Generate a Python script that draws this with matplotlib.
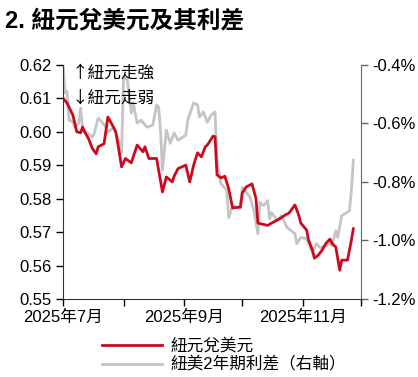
import matplotlib
matplotlib.use("Agg")
import matplotlib.pyplot as plt
import matplotlib.dates as mdates
import matplotlib.ticker as mticker
import pandas as pd

plt.rcParams['font.family'] = ['Liberation Sans', 'Noto Sans CJK TC', 'DejaVu Sans']

# NZD/USD
nzd_dates = ['2025-07-01', '2025-07-03', '2025-07-06', '2025-07-08', '2025-07-10', '2025-07-11',
             '2025-07-12', '2025-07-14', '2025-07-16', '2025-07-18', '2025-07-19', '2025-07-22',
             '2025-07-24', '2025-07-26', '2025-07-28', '2025-07-29', '2025-07-31', '2025-08-02',
             '2025-08-05', '2025-08-08', '2025-08-11', '2025-08-12', '2025-08-14', '2025-08-18',
             '2025-08-19', '2025-08-21', '2025-08-23', '2025-08-26', '2025-08-27', '2025-08-29',
             '2025-09-02', '2025-09-04', '2025-09-06', '2025-09-08', '2025-09-10', '2025-09-12',
             '2025-09-13', '2025-09-16', '2025-09-17', '2025-09-18', '2025-09-20', '2025-09-22',
             '2025-09-24', '2025-09-26', '2025-09-30', '2025-10-01', '2025-10-03', '2025-10-06',
             '2025-10-08', '2025-10-09', '2025-10-11', '2025-10-14', '2025-10-17', '2025-10-20',
             '2025-10-23', '2025-10-25', '2025-10-28', '2025-10-30', '2025-10-31', '2025-11-03',
             '2025-11-04', '2025-11-06', '2025-11-07', '2025-11-09', '2025-11-11', '2025-11-13',
             '2025-11-15', '2025-11-16', '2025-11-18', '2025-11-20', '2025-11-21', '2025-11-24',
             '2025-11-26', '2025-11-27']
nzd_usd = [0.610, 0.6086, 0.605, 0.600, 0.5997, 0.6014,
           0.600, 0.598, 0.595, 0.5934, 0.5955, 0.5964,
           0.6044, 0.6023, 0.600, 0.5967, 0.5895, 0.592,
           0.5907, 0.596, 0.594, 0.5955, 0.592, 0.592,
           0.5886, 0.582, 0.5865, 0.585, 0.5867, 0.589,
           0.590, 0.585, 0.590, 0.5937, 0.5925, 0.5955,
           0.596, 0.5987, 0.5985, 0.5871, 0.5862, 0.5867,
           0.583, 0.5772, 0.5775, 0.5817, 0.5835, 0.5844,
           0.580, 0.5727, 0.5724, 0.572, 0.573, 0.5739,
           0.5751, 0.5757, 0.5781, 0.575, 0.5727, 0.5706,
           0.5676, 0.5646, 0.5622, 0.5631, 0.5646, 0.5667,
           0.5679, 0.5667, 0.5655, 0.5586, 0.5616, 0.5616,
           0.5676, 0.571]

# NZ-US 2y yield spread (%)
spr_dates = ['2025-07-01', '2025-07-02', '2025-07-03', '2025-07-04', '2025-07-06', '2025-07-07',
             '2025-07-09', '2025-07-10', '2025-07-11', '2025-07-13', '2025-07-16', '2025-07-17',
             '2025-07-19', '2025-07-21', '2025-07-23', '2025-07-24', '2025-07-27', '2025-07-29',
             '2025-07-31', '2025-08-01', '2025-08-03', '2025-08-05', '2025-08-06', '2025-08-08',
             '2025-08-10', '2025-08-13', '2025-08-16', '2025-08-18', '2025-08-19', '2025-08-20',
             '2025-08-21', '2025-08-23', '2025-08-25', '2025-08-27', '2025-08-29', '2025-09-02',
             '2025-09-03', '2025-09-06', '2025-09-08', '2025-09-09', '2025-09-11', '2025-09-13',
             '2025-09-15', '2025-09-17', '2025-09-18', '2025-09-20', '2025-09-23', '2025-09-24',
             '2025-09-26', '2025-09-30', '2025-10-01', '2025-10-05', '2025-10-07', '2025-10-09',
             '2025-10-10', '2025-10-12', '2025-10-14', '2025-10-15', '2025-10-16', '2025-10-19',
             '2025-10-21', '2025-10-24', '2025-10-28', '2025-10-29', '2025-10-31', '2025-11-03',
             '2025-11-06', '2025-11-08', '2025-11-10', '2025-11-13', '2025-11-15', '2025-11-16',
             '2025-11-18', '2025-11-19', '2025-11-21', '2025-11-23', '2025-11-25', '2025-11-26',
             '2025-11-27']
spread = [-0.40, -0.496, -0.49, -0.589, -0.595, -0.613,
          -0.60, -0.548, -0.616, -0.63, -0.647, -0.633,
          -0.582, -0.596, -0.613, -0.63, -0.613, -0.647,
          -0.702, -0.441, -0.452, -0.565, -0.53, -0.599,
          -0.589, -0.613, -0.606, -0.537, -0.544, -0.623,
          -0.76, -0.623, -0.668, -0.633, -0.658, -0.64,
          -0.589, -0.53, -0.537, -0.578, -0.561, -0.596,
          -0.572, -0.561, -0.726, -0.805, -0.829, -0.922,
          -0.881, -0.891, -0.819, -0.853, -0.898, -0.977,
          -0.87, -0.881, -0.864, -0.925, -0.905, -0.932,
          -0.915, -0.956, -0.977, -1.011, -0.99, -0.994,
          -1.042, -1.011, -1.025, -1.018, -1.008, -1.018,
          -0.967, -0.99, -0.915, -0.908, -0.898, -0.829,
          -0.726]

red = '#cc0a1e'
gray = '#c4c4c4'

fig = plt.figure(figsize=(4.18, 3.77), dpi=100)
ax = fig.add_axes([0.151, 0.207, 0.713, 0.621])
ax2 = ax.twinx()

l1, = ax.plot(pd.to_datetime(nzd_dates), nzd_usd, color=red, lw=2, label='紐元兌美元')
l2, = ax2.plot(pd.to_datetime(spr_dates), spread, color=gray, lw=2, label='紐美2年期利差（右軸）')
ax.set_zorder(ax2.get_zorder() + 1)
ax.patch.set_visible(False)

ax.set_xlim(pd.Timestamp('2025-07-01'), pd.Timestamp('2025-12-01'))
ax.set_ylim(0.55, 0.62)
ax2.set_ylim(-1.2, -0.4)
ax.yaxis.set_major_locator(mticker.MultipleLocator(0.01))
ax.yaxis.set_major_formatter(mticker.FormatStrFormatter('%.2f'))
ax2.yaxis.set_major_locator(mticker.MultipleLocator(0.2))
ax2.yaxis.set_major_formatter(mticker.FuncFormatter(lambda v, p: f'{v:.1f}%'))

ax.xaxis.set_major_locator(mdates.MonthLocator(bymonth=[7, 9, 11]))
ax.xaxis.set_minor_locator(mdates.MonthLocator(bymonth=[8, 10, 12]))
ax.xaxis.set_major_formatter(mticker.FuncFormatter(
    lambda v, p: f'{mdates.num2date(v).year}年{mdates.num2date(v).month}月'))

for a in (ax, ax2):
    a.spines['top'].set_visible(False)
    a.tick_params(labelsize=12, length=5, width=1, pad=3)
ax.tick_params(axis='x', which='minor', length=5, width=1)
ax2.spines['left'].set_visible(False)
ax2.spines['bottom'].set_visible(False)
ax.spines['right'].set_visible(False)
ax.spines['left'].set_color('#333333')
ax.spines['bottom'].set_color('#333333')
ax2.spines['right'].set_color('#666666')
ax2.tick_params(axis='y', colors='#666666', labelcolor='black')

cjk = ['Noto Sans CJK TC', 'DejaVu Sans']
ax.text(0.03, 0.965, '↑紐元走強', transform=ax.transAxes, fontsize=12, va='center', family=cjk)
ax.text(0.03, 0.86, '↓紐元走弱', transform=ax.transAxes, fontsize=12, va='center', family=cjk)

fig.text(0.012, 0.945, '2. 紐元兌美元及其利差', fontsize=17, fontweight='bold', va='center')

fig.legend(handles=[l1, l2], loc='upper left', bbox_to_anchor=(0.225, 0.125),
           frameon=False, fontsize=12, handlelength=3.6, labelspacing=0.15,
           borderpad=0, handletextpad=0.5)

fig.savefig('out.png', dpi=100)
